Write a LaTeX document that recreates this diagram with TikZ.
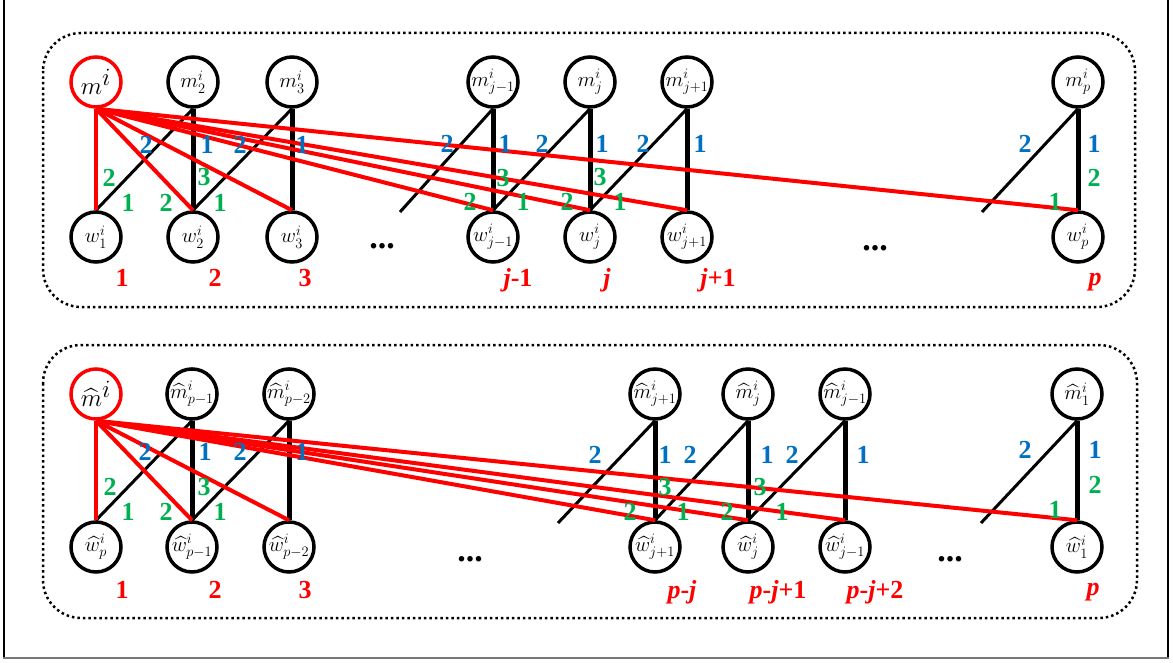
\documentclass[tikz,border=0pt]{standalone}
\usepackage{fontspec}
\setmainfont{Liberation Serif}
\usepackage{amsmath}
\definecolor{myred}{RGB}{255,0,0}
\definecolor{myblue}{RGB}{0,112,192}
\definecolor{mygreen}{RGB}{0,176,80}
\definecolor{framegray}{RGB}{120,120,120}
\begin{document}
\begin{tikzpicture}[x=1pt,y=-1pt,
  nd/.style={circle,draw,line width=3.5pt,minimum size=50pt,inner sep=0pt,font=\fontsize{21}{21}\selectfont},
  rednd/.style={nd,draw=myred,font=\fontsize{34}{34}\selectfont},
  vline/.style={line width=5pt},
  dline/.style={line width=3pt},
  rline/.style={draw=myred,line width=4pt},
  numlab/.style={inner sep=0pt,font=\fontsize{26}{26}\selectfont\bfseries},
  bl/.style={numlab,text=myblue},
  gr/.style={numlab,text=mygreen},
  rd/.style={numlab,text=myred},
  dotsl/.style={inner sep=0pt,anchor=base,font=\fontsize{34}{34}\selectfont\bfseries},
  panel/.style={draw,line width=2.5pt,dash pattern=on 2.5pt off 3pt,rounded corners=38pt}
]
\useasboundingbox (0,0) rectangle (1173,663);
% outer frame
\draw[line width=1.2pt] (4,0) -- (4,658);
\draw[line width=1.2pt] (1168,0) -- (1168,658);
\draw[framegray,line width=2pt] (3,658) -- (1169,658);
% panels
\draw[panel] (43,33) rectangle (1135,307);
\draw[panel] (43,345) rectangle (1137,618);

% ---------------- top panel nodes
\node[rednd] (mi) at (96,82) {$m^{i}$};
\node[nd] (m2) at (193,82) {$m^{i}_{2}$};
\node[nd] (m3) at (292,82) {$m^{i}_{3}$};
\node[nd] (mjm) at (493,82) {$m^{i}_{j-1}$};
\node[nd] (mj) at (590,82) {$m^{i}_{j}$};
\node[nd] (mjp) at (687,82) {$m^{i}_{j+1}$};
\node[nd] (mp) at (1078,82) {$m^{i}_{p}$};
\node[nd] (w1) at (96,237) {$w^{i}_{1}$};
\node[nd] (w2) at (193,237) {$w^{i}_{2}$};
\node[nd] (w3) at (292,237) {$w^{i}_{3}$};
\node[nd] (wjm) at (493,237) {$w^{i}_{j-1}$};
\node[nd] (wj) at (590,237) {$w^{i}_{j}$};
\node[nd] (wjp) at (687,237) {$w^{i}_{j+1}$};
\node[nd] (wp) at (1078,237) {$w^{i}_{p}$};
\coordinate (dA) at (400,212);
\coordinate (dB) at (982,212);

\draw[vline] (m2.south) -- (w2.north);
\draw[vline] (m3.south) -- (w3.north);
\draw[vline] (mjm.south) -- (wjm.north);
\draw[vline] (mj.south) -- (wj.north);
\draw[vline] (mjp.south) -- (wjp.north);
\draw[vline] (mp.south) -- (wp.north);
\draw[dline] (m2.south) -- (w1.north);
\draw[dline] (m3.south) -- (w2.north);
\draw[dline] (mjm.south) -- (dA);
\draw[dline] (mj.south) -- (wjm.north);
\draw[dline] (mjp.south) -- (wj.north);
\draw[dline] (mp.south) -- (dB);
\foreach \t in {w1,w2,w3,wjm,wj,wjp,wp}
  \draw[rline] (mi.south) -- (\t.north);

% top labels
\foreach \x/\y/\s [count=\k] in {146/145/2,207/145/1,240/145/2,302/145/1,447/144/2,505/144/1,542/144/2,602/144/1,643/144/2,700/144/1,1025/144/2,1094/144/1}
  \node[bl] (tb\k) at (\x,\y) {\s};
\foreach \x/\y/\s [count=\k] in {109/178/2,128/203/1,166/203/2,204/177/3,220/203/1,503/178/3,470/202/2,523/202/1,600/177/3,567/202/2,620/202/1,1094/178/2,1055/202/1}
  \node[gr] (tg\k) at (\x,\y) {\s};
\node[rd] (tr1) at (122,278) {1};
\node[rd] (tr2) at (215,278) {2};
\node[rd] (tr3) at (305,278) {3};
\node[rd] (tr4) at (518,280) {\textit{j}-1};
\node[rd] (tr5) at (607,280) {\textit{j}};
\node[rd] (tr6) at (718,280) {\textit{j}+1};
\node[rd] (tr7) at (1095,282) {\textit{p}};
\node[dotsl] (td1) at (382,249) {...};
\node[dotsl] (td2) at (875,251) {...};

% ---------------- bottom panel nodes
\node[rednd] (hmi) at (96,394) {$\widehat{m}^{i}$};
\node[nd] (hmpa) at (192,394) {$\widehat{m}^{i}_{p-1}$};
\node[nd] (hmpb) at (289,394) {$\widehat{m}^{i}_{p-2}$};
\node[nd] (hmjp) at (655,394) {$\widehat{m}^{i}_{j+1}$};
\node[nd] (hmj) at (748,394) {$\widehat{m}^{i}_{j}$};
\node[nd] (hmjm) at (845,394) {$\widehat{m}^{i}_{j-1}$};
\node[nd] (hmo) at (1077,394) {$\widehat{m}^{i}_{1}$};
\node[nd] (hwp) at (96,547) {$\widehat{w}^{i}_{p}$};
\node[nd] (hwpa) at (192,547) {$\widehat{w}^{i}_{p-1}$};
\node[nd] (hwpb) at (289,547) {$\widehat{w}^{i}_{p-2}$};
\node[nd] (hwjp) at (655,547) {$\widehat{w}^{i}_{j+1}$};
\node[nd] (hwj) at (748,547) {$\widehat{w}^{i}_{j}$};
\node[nd] (hwjm) at (845,547) {$\widehat{w}^{i}_{j-1}$};
\node[nd] (hwo) at (1077,547) {$\widehat{w}^{i}_{1}$};
\coordinate (dC) at (558,523);
\coordinate (dD) at (981,523);

\draw[vline] (hmpa.south) -- (hwpa.north);
\draw[vline] (hmpb.south) -- (hwpb.north);
\draw[vline] (hmjp.south) -- (hwjp.north);
\draw[vline] (hmj.south) -- (hwj.north);
\draw[vline] (hmjm.south) -- (hwjm.north);
\draw[vline] (hmo.south) -- (hwo.north);
\draw[dline] (hmpa.south) -- (hwp.north);
\draw[dline] (hmpb.south) -- (hwpa.north);
\draw[dline] (hmjp.south) -- (dC);
\draw[dline] (hmj.south) -- (hwjp.north);
\draw[dline] (hmjm.south) -- (hwj.north);
\draw[dline] (hmo.south) -- (dD);
\foreach \t in {hwp,hwpa,hwpb,hwjp,hwj,hwjm,hwo}
  \draw[rline] (hmi.south) -- (\t.north);

% bottom labels
\foreach \x/\y/\s [count=\k] in {145/452/2,205/452/1,240/452/2,302/452/1,595/455/2,665/455/1,690/455/2,767/455/1,792/455/2,863/455/1,1025/450/2,1095/450/1}
  \node[bl] (bb\k) at (\x,\y) {\s};
\foreach \x/\y/\s [count=\k] in {110/487/2,128/512/1,166/512/2,204/487/3,220/512/1,665/487/3,630/512/2,683/512/1,760/487/3,727/512/2,782/512/1,1095/485/2,1055/510/1}
  \node[gr] (bg\k) at (\x,\y) {\s};
\node[rd] (br1) at (122,590) {1};
\node[rd] (br2) at (215,590) {2};
\node[rd] (br3) at (305,590) {3};
\node[rd] (br4) at (682,592) {\textit{p}-\textit{j}};
\node[rd] (br5) at (778,592) {\textit{p}-\textit{j}+1};
\node[rd] (br6) at (875,592) {\textit{p}-\textit{j}+2};
\node[rd] (br7) at (1093,592) {\textit{p}};
\node[dotsl] (bd1) at (470,561) {...};
\node[dotsl] (bd2) at (950,561) {...};
\end{tikzpicture}
\end{document}
